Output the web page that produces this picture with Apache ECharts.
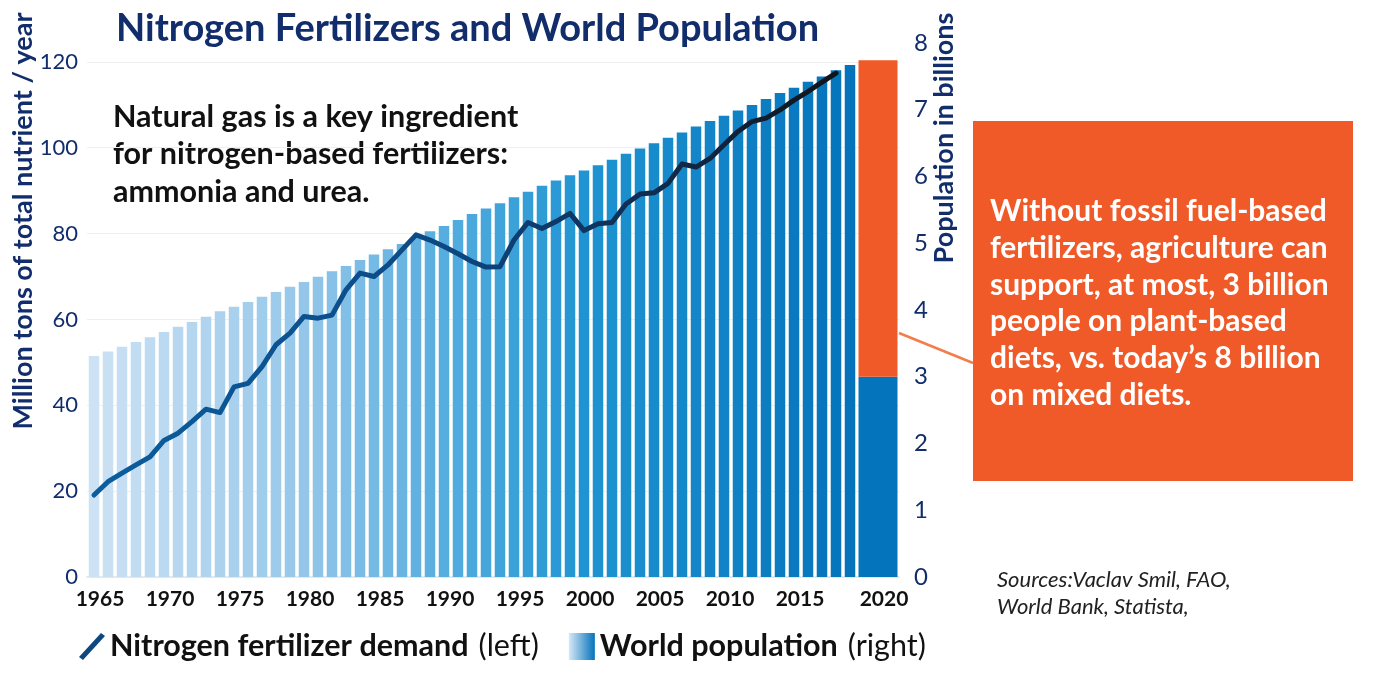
<!DOCTYPE html>
<html lang="en">
<head>
<meta charset="UTF-8">
<title>Nitrogen Fertilizers and World Population</title>
<script src="https://cdn.jsdelivr.net/npm/echarts@6/dist/echarts.min.js"></script>
<style>
    html, body { margin: 0; padding: 0; background: #fff; }
    #chart { width: 1376px; height: 678px; }
</style>
</head>
<body>
<div id="chart"></div>
<script>
    // x categories: one per year, then the wide "2020" column (blank slots either side)
    var years = [];
    for (var y = 1965; y <= 2019; y++) years.push(String(y));
    var categories = years.concat(['', '2020', ' ']);

    // world population, billions (right axis)
    var population = [
        3.31, 3.38, 3.45, 3.52, 3.59, 3.67, 3.75, 3.82, 3.90, 3.98,
        4.05, 4.12, 4.20, 4.27, 4.35, 4.42, 4.50, 4.58, 4.66, 4.75,
        4.83, 4.91, 4.99, 5.08, 5.18, 5.26, 5.35, 5.44, 5.52, 5.60,
        5.69, 5.77, 5.86, 5.94, 6.02, 6.09, 6.17, 6.25, 6.34, 6.42,
        6.50, 6.58, 6.66, 6.75, 6.83, 6.91, 6.99, 7.07, 7.16, 7.25,
        7.33, 7.42, 7.50, 7.59, 7.67
    ];

    // nitrogen fertilizer demand, million tons / year (left axis), 1965-2018
    var fertilizer = [
        19.1, 22.2, 24.2, 26.1, 28.0, 31.8, 33.5, 36.2, 39.1, 38.3,
        44.3, 45.1, 49.0, 54.1, 56.8, 60.7, 60.3, 61.0, 66.9, 70.8,
        70.0, 72.7, 76.2, 79.7, 78.5, 77.0, 75.3, 73.5, 72.2, 72.3,
        78.5, 82.6, 81.2, 82.8, 84.7, 80.7, 82.3, 82.6, 86.9, 89.2,
        89.5, 91.7, 96.2, 95.5, 97.5, 100.7, 103.8, 106.1, 106.9, 108.8,
        111.1, 113.1, 115.3, 117.4
    ];

    // the 2020 column: population supportable without synthetic N vs today's
    var plantBasedMax = [3];
    var todayPopulation = [7.74];

    var leftTicks = [0, 20, 40, 60, 80, 100, 120];
    var rightTicks = [0, 1, 2, 3, 4, 5, 6, 7, 8];

    var navy = '#122d6b';
    var orange = '#f05a28';
    var font = 'Lato';

    // bar shades, light to dark
    var shade = [
        [0, '#cde2f4'], [0.25, '#9ccaeb'], [0.45, '#5aafe0'],
        [0.65, '#1f94d2'], [1, '#0473bb']
    ];

    function hex(c) {
        return [parseInt(c.substr(1, 2), 16), parseInt(c.substr(3, 2), 16), parseInt(c.substr(5, 2), 16)];
    }
    function shadeAt(t) {
        for (var i = 1; i < shade.length; i++) {
            if (t <= shade[i][0]) {
                var a = hex(shade[i - 1][1]), b = hex(shade[i][1]);
                var k = (t - shade[i - 1][0]) / (shade[i][0] - shade[i - 1][0]);
                return 'rgb(' + [0, 1, 2].map(function (j) {
                    return Math.round(a[j] + (b[j] - a[j]) * k);
                }).join(',') + ')';
            }
        }
        return shade[shade.length - 1][1];
    }

    var idx2020 = categories.indexOf('2020');
    var baseCol = categories.map(function (c, i) { return i === idx2020 ? plantBasedMax[0] : null; });
    var restCol = categories.map(function (c, i) { return i === idx2020 ? todayPopulation[0] - plantBasedMax[0] : null; });

    var chart = echarts.init(document.getElementById('chart'));

    var option = {
        animation: false,
        textStyle: { fontFamily: font },
        title: {
            text: 'Nitrogen Fertilizers and World Population',
            left: 111,
            top: 5,
            textStyle: { fontFamily: font, fontSize: 38, fontWeight: 'bold', color: navy }
        },
        grid: { left: 87, right: 477, top: 43, bottom: 101, outerBoundsMode: 'none', containLabel: false },
        legend: {
            left: 74,
            top: 626,
            itemWidth: 26,
            itemHeight: 27,
            itemGap: 30,
            selectedMode: false,
            data: [
                {
                    name: 'Nitrogen fertilizer demand',
                    icon: 'path://M0,24 L22,0 L26,3 L4,27 Z',
                    itemStyle: { color: '#0d4780' }
                },
                {
                    name: 'World population',
                    icon: 'rect',
                    itemStyle: {
                        color: {
                            type: 'linear', x: 0, y: 0, x2: 1, y2: 0,
                            colorStops: [{ offset: 0, color: '#d6e8f6' }, { offset: 1, color: '#0473bb' }]
                        }
                    }
                }
            ],
            formatter: function (name) {
                return name === 'World population'
                    ? '{b|World population}{r|(right)}'
                    : '{b|Nitrogen fertilizer demand}{r|(left)}';
            },
            textStyle: {
                rich: {
                    b: { fontFamily: font, fontSize: 30.5, fontWeight: 'bold', color: '#111' },
                    r: { fontFamily: font, fontSize: 30.5, color: '#111', padding: [0, 0, 0, 10] }
                }
            }
        },
        xAxis: [
            {
                type: 'category',
                data: categories,
                axisTick: { show: false },
                axisLine: { lineStyle: { color: '#e4e4e4', width: 1.5 } },
                axisLabel: {
                    interval: function (i, v) {
                        return v.trim() !== '' && Number(v) % 5 === 0;
                    },
                    margin: 12,
                    padding: [0, 0, 0, 12],
                    fontFamily: font,
                    fontSize: 21,
                    fontWeight: 'bold',
                    color: '#111'
                }
            },
            {
                type: 'category',
                data: categories,
                show: false
            }
        ],
        yAxis: [
            {
                type: 'value',
                min: 0,
                max: 124.4,
                interval: 20,
                name: 'Million tons of total nutrient / year',
                nameLocation: 'middle',
                nameRotate: 90,
                nameMoveOverlap: false,
                nameGap: 50,
                nameTextStyle: {
                    fontFamily: font, fontSize: 27, fontWeight: 'bold', color: navy,
                    padding: [0, 0, 0, 178]
                },
                axisLine: { show: false },
                axisTick: { show: false },
                axisLabel: {
                    margin: 9,
                    fontFamily: font, fontSize: 22, color: navy,
                    formatter: function (v) { return leftTicks.indexOf(v) >= 0 ? String(v) : ''; }
                },
                splitLine: { showMaxLine: false, lineStyle: { color: '#efefef', width: 1 } }
            },
            {
                type: 'value',
                min: 0,
                max: 8,
                interval: 1,
                position: 'right',
                name: 'Population in billions',
                nameLocation: 'middle',
                nameRotate: 90,
                nameMoveOverlap: false,
                nameGap: 32,
                nameTextStyle: {
                    fontFamily: font, fontSize: 27, fontWeight: 'bold', color: navy,
                    padding: [0, 0, 0, 344]
                },
                axisLine: { show: false },
                axisTick: { show: false },
                splitLine: { show: false },
                axisLabel: {
                    margin: 15,
                    fontFamily: font, fontSize: 24, color: navy,
                    formatter: function (v) { return rightTicks.indexOf(v) >= 0 ? String(v) : ''; }
                }
            }
        ],
        series: [
            {
                name: 'World population',
                type: 'bar',
                yAxisIndex: 1,
                barWidth: 10.5,
                data: population,
                itemStyle: {
                    color: function (p) { return shadeAt(p.dataIndex / (population.length - 1)); }
                },
                z: 2
            },
            {
                name: 'Plant-based max',
                type: 'bar',
                xAxisIndex: 1,
                yAxisIndex: 1,
                stack: 'y2020',
                barWidth: 39,
                data: baseCol,
                itemStyle: { color: '#0474bc' }
            },
            {
                name: 'Today',
                type: 'bar',
                xAxisIndex: 1,
                yAxisIndex: 1,
                stack: 'y2020',
                barWidth: 39,
                data: restCol,
                itemStyle: { color: orange }
            },
            {
                name: 'Nitrogen fertilizer demand',
                type: 'line',
                yAxisIndex: 0,
                data: fertilizer,
                symbol: 'none',
                z: 5,
                lineStyle: {
                    width: 5,
                    cap: 'round',
                    join: 'round',
                    color: {
                        type: 'linear', x: 0, y: 0, x2: 1, y2: 0,
                        colorStops: [
                            { offset: 0, color: '#0b5e9e' },
                            { offset: 0.45, color: '#0c4a86' },
                            { offset: 0.7, color: '#10315a' },
                            { offset: 1, color: '#101419' }
                        ]
                    }
                }
            }
        ],
        graphic: [
            {
                type: 'text',
                left: 113,
                top: 98,
                style: {
                    text: 'Natural gas is a key ingredient\nfor nitrogen-based fertilizers:\nammonia and urea.',
                    fontFamily: font, fontSize: 30.5, fontWeight: 'bold', fill: '#111',
                    lineHeight: 37.5
                }
            },
            {
                type: 'line',
                shape: { x1: 899, y1: 333, x2: 973, y2: 363 },
                style: { stroke: '#f47d4d', lineWidth: 2.5 }
            },
            {
                type: 'rect',
                shape: { x: 973, y: 121, width: 380, height: 360 },
                style: { fill: orange }
            },
            {
                type: 'text',
                left: 990,
                top: 193,
                style: {
                    text: 'Without fossil fuel-based\nfertilizers, agriculture can\nsupport, at most, 3 billion\npeople on plant-based\ndiets, vs. today\u2019s 8 billion\non mixed diets.',
                    fontFamily: font, fontSize: 30, fontWeight: 'bold', fill: '#fff',
                    lineHeight: 36.8
                }
            },
            {
                type: 'text',
                left: 997,
                top: 566,
                style: {
                    text: 'Sources:Vaclav Smil, FAO,\nWorld Bank, Statista,',
                    fontFamily: font, fontSize: 22, fontStyle: 'italic', fill: '#222',
                    lineHeight: 27
                }
            }
        ]
    };

    chart.setOption(option);
</script>
</body>
</html>
